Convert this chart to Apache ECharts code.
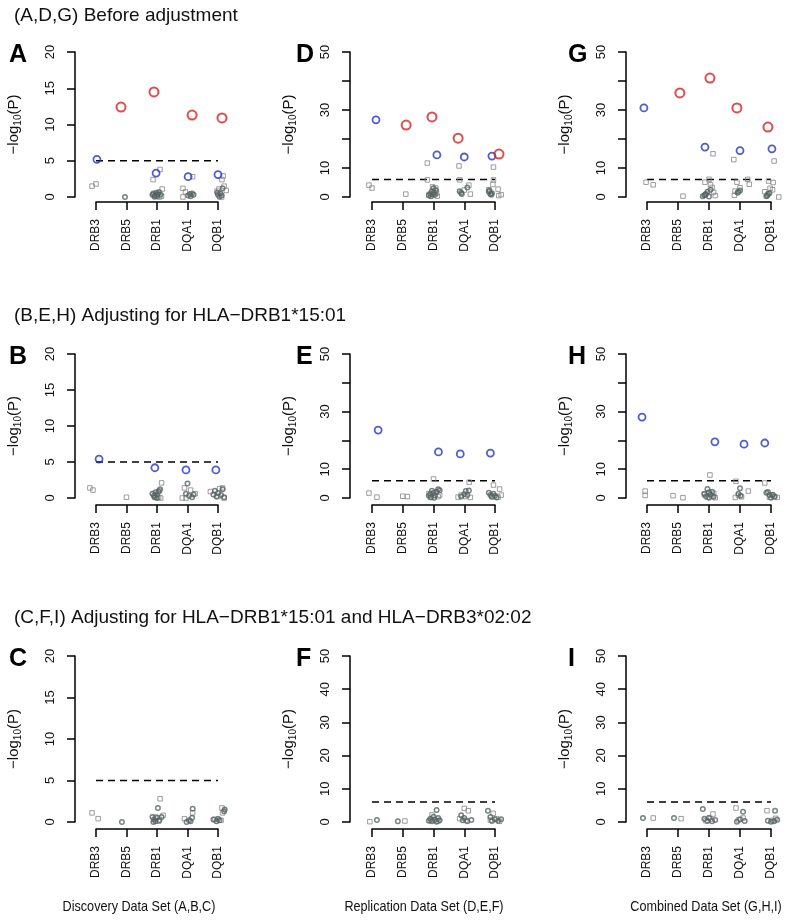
<!DOCTYPE html>
<html>
<head>
<meta charset="utf-8">
<script src="https://cdn.jsdelivr.net/npm/echarts@6/dist/echarts.min.js"></script>
<style>
  html, body { margin: 0; padding: 0; background: #fff; }
  #main { width: 802px; height: 922px; }
</style>
</head>
<body>
<div id="main"></div>
<script>
const genes = ['DRB3', 'DRB5', 'DRB1', 'DQA1', 'DQB1'];

// points are [category position (1..5, jittered), -log10(P)]
const aSquares = [[0.87,1.5],[1.0,1.8],[2.87,2.4],[3.1,3.8],[3.17,1.1],[3.15,0.1],[3.02,0.3],[3.08,0.0],[3.85,1.2],[3.85,0.0],[3.93,0.7],[4.17,2.8],[4.97,0.8],[5.13,2.4],[5.17,2.9],[5.2,1.5],[5.27,0.9],[5.12,0.0],[5.03,1.1]];
const aCircles = [[1.95,0.0],[2.85,0.3],[2.88,0.5],[2.93,0.2],[2.98,0.6],[3.03,0.4],[3.07,0.7],[3.12,0.3],[2.92,0.05],[3.0,0.1],[4.02,0.2],[4.08,0.4],[4.15,0.5],[4.2,0.3],[4.1,0.1],[5.0,0.3],[5.05,0.05],[5.08,0.5],[5.12,0.2],[5.15,1.2],[4.98,0.6]];
const aBlue = [[1.03,5.2],[2.97,3.3],[4.02,2.8],[5.0,3.1]];
const aRed = [[1.82,12.4],[2.90,14.5],[4.15,11.3],[5.13,10.9]];

const dSquares = [[0.9,4.1],[1.0,3.1],[2.1,1.0],[2.8,11.7],[2.8,5.9],[2.97,3.5],[3.07,3.1],[3.1,1.4],[3.12,0.3],[2.85,0.8],[3.83,10.7],[3.85,5.9],[4.15,4.1],[4.2,1.0],[4.0,2.4],[4.95,10.3],[4.95,5.9],[4.93,4.3],[5.1,2.7],[5.2,0.8],[5.12,0.5],[4.8,2.5]];
const dCircles = [[2.85,0.5],[2.9,1.2],[2.95,2.0],[3.0,3.0],[3.02,1.5],[3.05,0.8],[2.92,0.3],[3.08,2.3],[2.98,0.9],[3.85,2.0],[3.9,1.5],[3.92,1.0],[4.1,3.3],[4.8,1.8],[4.85,1.0],[4.9,1.3],[4.88,0.8],[4.82,2.2]];
const dBlue = [[1.13,26.6],[3.11,14.5],[4.0,13.8],[4.9,14.1]];
const dRed = [[2.11,24.8],[2.95,27.6],[3.8,20.3],[5.13,14.8]];

const gSquares = [[0.97,5.1],[1.2,4.2],[2.16,0.3],[3.13,14.9],[2.87,5.1],[3.0,6.1],[3.05,4.2],[3.1,3.3],[3.15,1.6],[3.2,0.5],[3.8,12.9],[3.9,5.1],[4.25,6.1],[4.3,4.4],[3.84,2.0],[3.82,0.6],[4.0,3.2],[5.1,12.4],[4.92,5.5],[5.07,5.0],[4.97,3.0],[5.05,2.5],[5.25,0.0],[4.8,1.8]];
const gCircles = [[2.8,0.3],[2.85,0.6],[2.9,1.0],[2.95,1.8],[3.0,0.2],[3.05,2.5],[2.88,0.8],[3.95,1.8],[4.0,2.2],[3.92,1.5],[4.85,0.3],[4.9,1.0],[4.95,1.3],[4.88,0.5]];
const gBlue = [[0.9,30.7],[2.87,17.2],[4.0,16.0],[5.03,16.6]];
const gRed = [[2.06,35.9],[3.03,41.0],[3.9,30.7],[4.9,24.1]];

const bSquares = [[0.8,1.4],[0.9,1.1],[2.0,0.1],[3.15,2.1],[2.95,0.1],[3.05,0.1],[3.12,0.0],[3.08,1.0],[3.9,1.4],[3.83,0.0],[4.1,1.1],[4.25,0.6],[3.95,0.0],[4.75,0.9],[5.05,1.3],[5.15,1.4],[5.2,0.0],[5.0,0.2]];
const bCircles = [[2.85,0.6],[2.9,0.3],[2.95,0.8],[3.0,0.5],[3.05,0.9],[3.1,1.2],[3.0,0.0],[2.92,0.1],[4.0,2.0],[3.95,0.6],[4.05,0.3],[4.15,0.1],[4.2,0.5],[4.85,0.5],[4.9,1.0],[4.95,0.2],[5.0,0.7],[5.1,0.4],[5.15,1.2],[5.2,0.1]];
const bBlue = [[1.1,5.4],[2.93,4.2],[3.95,3.9],[4.93,3.9]];

const eSquares = [[0.9,1.7],[1.16,0.3],[2.0,0.6],[2.15,0.5],[3.0,6.6],[2.85,1.5],[2.9,0.2],[3.15,0.5],[3.2,1.0],[3.8,0.3],[3.9,1.0],[4.05,0.5],[4.16,5.5],[4.2,0.2],[4.95,4.5],[5.15,3.1],[4.9,0.5],[5.1,0.3],[5.2,1.0]];
const eCircles = [[2.85,0.8],[2.9,1.5],[2.95,2.5],[3.0,1.8],[3.05,0.9],[3.1,2.2],[3.15,3.0],[3.2,2.7],[2.92,0.3],[3.02,0.1],[3.9,0.5],[4.0,1.3],[4.05,2.4],[4.1,1.0],[4.15,2.6],[4.8,1.8],[4.85,1.0],[4.9,0.4],[4.95,1.5],[5.0,0.8],[5.05,0.2]];
const eBlue = [[1.2,23.6],[3.16,16.0],[3.87,15.3],[4.85,15.6]];

const hSquares = [[0.94,2.4],[0.94,0.9],[1.84,0.8],[2.16,0.1],[3.03,8.0],[2.85,1.2],[2.95,0.3],[3.1,0.7],[3.15,1.6],[3.2,0.1],[3.87,5.8],[4.27,2.4],[3.85,0.2],[3.95,0.9],[4.05,0.4],[4.8,5.2],[4.95,0.3],[5.05,1.0],[5.2,0.2],[5.1,0.6]];
const hCircles = [[2.95,3.1],[2.85,1.5],[2.9,0.6],[3.0,2.0],[3.05,1.2],[3.1,2.2],[3.15,0.4],[3.0,0.1],[4.0,3.4],[3.95,1.5],[4.02,0.8],[4.9,2.1],[4.85,1.8],[4.95,1.0],[5.05,1.1],[5.12,0.4],[5.0,0.1]];
const hBlue = [[0.84,28.1],[3.19,19.5],[4.13,18.7],[4.8,19.1]];

const cSquares = [[0.87,1.1],[1.07,0.4],[3.1,2.8],[3.2,0.8],[2.95,0.6],[4.17,1.1],[3.9,0.4],[5.13,1.7],[5.15,1.1],[5.1,0.2],[4.9,0.3],[3.05,0.1]];
const cCircles = [[1.85,0.0],[3.03,1.7],[2.85,0.6],[2.9,0.3],[2.95,0.1],[3.0,0.5],[3.08,0.2],[3.15,0.6],[2.88,0.0],[4.17,1.6],[4.15,0.5],[3.97,0.0],[4.05,0.2],[4.1,0.1],[5.2,1.3],[5.22,1.5],[4.85,0.3],[4.95,0.1],[5.0,0.4],[5.05,0.2]];

const fSquares = [[0.93,0.1],[2.07,0.3],[2.95,2.1],[2.9,0.5],[3.15,0.3],[4.0,4.1],[4.13,3.4],[3.85,1.0],[4.05,0.5],[4.94,2.6],[5.05,1.0],[5.15,0.2],[4.85,0.6]];
const fCircles = [[1.16,0.6],[1.84,0.2],[3.1,3.6],[2.85,0.4],[2.9,1.0],[2.95,0.2],[3.0,1.6],[3.05,0.7],[3.1,0.1],[3.15,1.2],[3.2,0.5],[3.9,2.0],[3.95,0.5],[4.0,1.2],[4.1,0.2],[4.23,0.6],[4.77,3.4],[4.85,1.5],[4.9,0.3],[5.0,0.8],[5.1,0.4],[5.2,0.8]];

const iSquares = [[1.2,1.2],[2.1,1.0],[3.13,2.4],[2.9,0.4],[3.05,0.9],[3.87,4.2],[3.95,0.6],[4.1,1.2],[4.87,3.4],[5.05,0.5],[5.15,1.1]];
const iCircles = [[0.87,1.2],[1.87,1.2],[2.8,3.9],[2.85,1.0],[2.95,0.3],[3.0,1.3],[3.1,0.2],[3.2,0.6],[4.1,3.1],[4.0,0.8],[4.15,0.3],[3.9,0.1],[5.13,3.4],[4.9,0.4],[5.0,0.1],[5.2,0.7],[5.1,0.2]];

const thresholds = [5, 6, 6]; // by column: discovery, replication, combined
const yMax = [20, 50, 50];
const yStep = [5, 10, 10];

const rowTitles = [
  '(A,D,G) Before adjustment',
  '(B,E,H) Adjusting for HLA\u2212DRB1*15:01',
  '(C,F,I) Adjusting for HLA\u2212DRB1*15:01 and HLA\u2212DRB3*02:02'
];
const colTitles = ['Discovery Data Set (A,B,C)', 'Replication Data Set (D,E,F)', 'Combined Data Set (G,H,I)'];

const panels = [
  { label: 'A', row: 0, col: 0, squares: aSquares, circles: aCircles, blue: aBlue, red: aRed },
  { label: 'D', row: 0, col: 1, squares: dSquares, circles: dCircles, blue: dBlue, red: dRed },
  { label: 'G', row: 0, col: 2, squares: gSquares, circles: gCircles, blue: gBlue, red: gRed },
  { label: 'B', row: 1, col: 0, squares: bSquares, circles: bCircles, blue: bBlue, red: [] },
  { label: 'E', row: 1, col: 1, squares: eSquares, circles: eCircles, blue: eBlue, red: [] },
  { label: 'H', row: 1, col: 2, squares: hSquares, circles: hCircles, blue: hBlue, red: [] },
  { label: 'C', row: 2, col: 0, squares: cSquares, circles: cCircles, blue: [], red: [] },
  { label: 'F', row: 2, col: 1, squares: fSquares, circles: fCircles, blue: [], red: [] },
  { label: 'I', row: 2, col: 2, squares: iSquares, circles: iCircles, blue: [], red: [] }
];

// layout (px)
const rowTop = [52, 354, 656];
const rowHeight = [145, 144, 166];
const xAxisOffset = [5, 7, 7];
const colLeft = [96, 372, 647];
const colWidth = [122, 123, 124];
const yAxisOffset = [21, 22, 21];

const font = '"Liberation Sans", Arial, Helvetica, sans-serif';
const hollow = 'rgba(0,0,0,0)';

const grids = [], xAxes = [], yAxes = [], series = [], titles = [];

rowTitles.forEach((t, r) => {
  titles.push({ text: t, left: 9, top: [1, 301, 603][r],
    textStyle: { fontFamily: font, fontSize: 19, fontWeight: 'normal', color: '#111' } });
});

// bottom captions are set in a narrow face in the original; squeeze them horizontally
const captions = colTitles.map((t, c) => ({
  type: 'text', x: [139, 424, 706][c], y: 907, scaleX: 0.87,
  style: { text: t, x: 0, y: 0, align: 'center', verticalAlign: 'middle',
    font: '14.5px "Liberation Sans", Arial, sans-serif', fill: '#111' }
}));

panels.forEach((p, i) => {
  const r = p.row, c = p.col;
  titles.push({ text: p.label, left: [4, 291, 563][c], top: rowTop[r] - 14,
    textStyle: { fontFamily: font, fontSize: 25, fontWeight: 'bold', color: '#000' } });

  grids.push({ left: colLeft[c], top: rowTop[r], width: colWidth[c], height: rowHeight[r] });

  xAxes.push({
    gridIndex: i, type: 'value', min: 1, max: 5, interval: 1, offset: xAxisOffset[r],
    axisLine: { onZero: false, lineStyle: { color: '#000', width: 1.5 } },
    axisTick: { length: 8, lineStyle: { color: '#000', width: 1.5 } },
    splitLine: { show: false },
    axisLabel: { rotate: 90, margin: 17, fontSize: 12, fontFamily: font, color: '#111',
      formatter: v => genes[v - 1] || '' }
  });

  const hideLabels = (c > 0 && r < 2) ? [20, 40] : [];
  yAxes.push({
    gridIndex: i, type: 'value', min: 0, max: yMax[c], interval: yStep[c], offset: yAxisOffset[c],
    axisLine: { show: true, onZero: false, lineStyle: { color: '#000', width: 1.5 } },
    axisTick: { show: true, length: 8, lineStyle: { color: '#000', width: 1.5 } },
    splitLine: { show: false },
    axisLabel: { rotate: 90, margin: 18, fontSize: 13, fontFamily: font, color: '#111',
      formatter: v => hideLabels.includes(v) ? '' : String(v) },
    name: '{n|\u2212log}{s|10}{n|(P)}',
    nameLocation: 'middle', nameRotate: 90, nameGap: 52,
    nameTextStyle: { fontFamily: font, color: '#111',
      rich: { n: { fontSize: 15, fontFamily: font, color: '#111' },
              s: { fontSize: 10, fontFamily: font, color: '#111', padding: [8, 0, 0, 0] } } }
  });

  const t = thresholds[c];
  series.push({
    type: 'line', xAxisIndex: i, yAxisIndex: i, data: [[1, t], [5, t]],
    showSymbol: false, symbol: 'none', silent: true, z: 1,
    lineStyle: { color: '#000', width: 1.5, type: [7, 5] }
  });
  series.push({
    type: 'scatter', xAxisIndex: i, yAxisIndex: i, data: p.squares, clip: false, silent: true,
    symbol: 'rect', symbolSize: 4.5,
    itemStyle: { color: hollow, borderColor: '#858585', borderWidth: 1 }
  });
  series.push({
    type: 'scatter', xAxisIndex: i, yAxisIndex: i, data: p.circles, clip: false, silent: true,
    symbol: 'circle', symbolSize: 4.5,
    itemStyle: { color: hollow, borderColor: '#566464', borderWidth: 1.5 }
  });
  series.push({
    type: 'scatter', xAxisIndex: i, yAxisIndex: i, data: p.blue, clip: false, silent: true,
    symbol: 'circle', symbolSize: 7,
    itemStyle: { color: hollow, borderColor: '#2233cc', borderWidth: 1.8 }
  });
  series.push({
    type: 'scatter', xAxisIndex: i, yAxisIndex: i, data: p.red, clip: false, silent: true,
    symbol: 'circle', symbolSize: 9,
    itemStyle: { color: hollow, borderColor: '#d81e1e', borderWidth: 2 }
  });
});

const chart = echarts.init(document.getElementById('main'));
chart.setOption({
  animation: false,
  backgroundColor: '#fff',
  title: titles,
  graphic: captions,
  grid: grids,
  xAxis: xAxes,
  yAxis: yAxes,
  series: series
});
</script>
</body>
</html>
